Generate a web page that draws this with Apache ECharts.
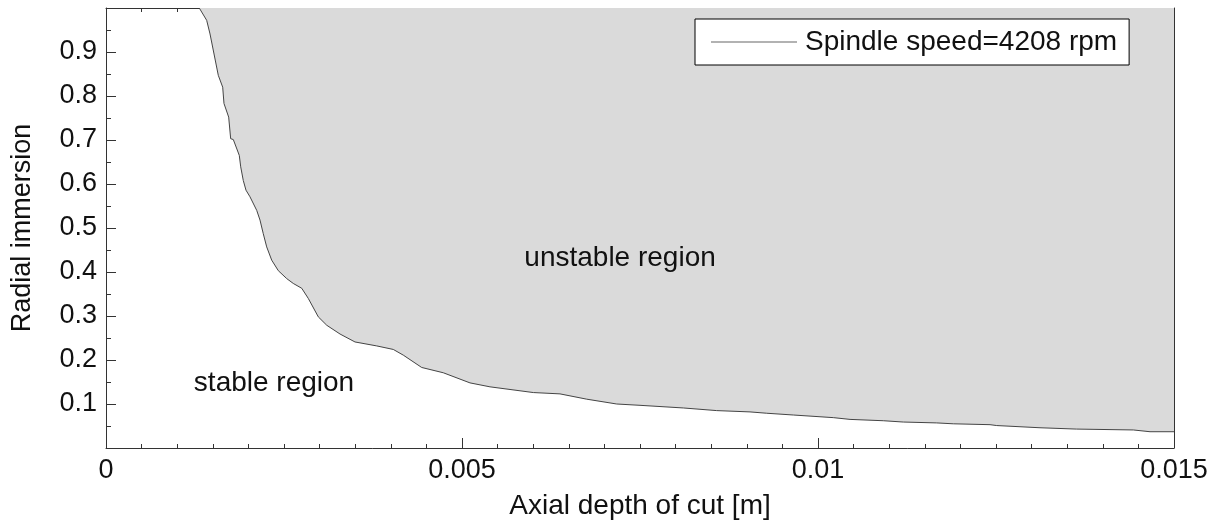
<!DOCTYPE html>
<html>
<head>
<meta charset="utf-8">
<script src="https://cdn.jsdelivr.net/npm/echarts@6/dist/echarts.min.js"></script>
<style>
  html, body { margin: 0; padding: 0; background: #fff; }
  #chart { width: 1223px; height: 527px; }
</style>
</head>
<body>
<div id="chart"></div>
<script>
// Stability lobe boundary: axial depth of cut [m] vs radial immersion
const depth = [
  0.001310, 0.001414, 0.001461, 0.001577, 0.001639, 0.001657, 0.001723, 0.001751,
  0.001788, 0.001872, 0.001892, 0.001928, 0.001966, 0.002022, 0.002117, 0.002163,
  0.002209, 0.002257, 0.002327, 0.002420, 0.002538, 0.002630, 0.002749, 0.002841,
  0.002982, 0.003100, 0.003287, 0.003497, 0.003802, 0.004035, 0.004176, 0.004434,
  0.004737, 0.005112, 0.005393, 0.006002, 0.006376, 0.006751, 0.007173, 0.007500,
  0.008108, 0.008577, 0.009045, 0.009280, 0.009653, 0.010215, 0.010450, 0.010917,
  0.011198, 0.011667, 0.011900, 0.012416, 0.012510, 0.013118, 0.013633, 0.014429,
  0.014663, 0.015000
];
const immersion = [
  1.000, 0.972, 0.941, 0.847, 0.820, 0.783, 0.752, 0.703,
  0.701, 0.665, 0.639, 0.608, 0.586, 0.571, 0.540, 0.518,
  0.487, 0.457, 0.427, 0.403, 0.385, 0.374, 0.363, 0.340,
  0.298, 0.279, 0.259, 0.241, 0.232, 0.224, 0.211, 0.183,
  0.171, 0.148, 0.139, 0.126, 0.123, 0.111, 0.100, 0.097,
  0.091, 0.085, 0.082, 0.079, 0.075, 0.069, 0.065, 0.062,
  0.059, 0.057, 0.055, 0.053, 0.051, 0.046, 0.043, 0.041,
  0.037, 0.037
];
const xTickLabels = ['0', '0.005', '0.01', '0.015'];
const seriesName = 'Spindle speed=4208 rpm';
const regionNames = ['unstable region', 'stable region'];
const regionDepth = [0.00722, 0.00236];
const regionImmersion = [0.431, 0.148];

const FONT = "'Liberation Sans', Arial, sans-serif";
const TEXT = '#111';
const AXIS = '#333';

const boundary = depth.map((d, i) => [d, immersion[i]]);

const chart = echarts.init(document.getElementById('chart'), null, { renderer: 'canvas' });

const baseAxis = {
  axisLine: { show: true, onZero: false, lineStyle: { color: AXIS, width: 1 } },
  axisTick: { show: true, inside: true, length: 10, lineStyle: { color: AXIS, width: 1 } },
  minorTick: { show: true, length: 4, lineStyle: { color: AXIS, width: 1 } },
  splitLine: { show: false },
  minorSplitLine: { show: false }
};

chart.setOption({
  animation: false,
  backgroundColor: '#fff',
  textStyle: { fontFamily: FONT },
  grid: { left: 106, right: 49, top: 8, bottom: 79, containLabel: false },
  legend: {
    data: [seriesName],
    left: 695,
    top: 19,
    padding: [9, 12, 9, 16],
    backgroundColor: '#fff',
    borderColor: '#000',
    borderWidth: 1,
    borderRadius: 0,
    itemWidth: 86,
    itemHeight: 14,
    itemGap: 0,
    icon: 'path://M0,0 L100,0 L100,1 L0,1 Z',
    selectedMode: false,
    itemStyle: { color: '#666' },
    textStyle: { fontFamily: FONT, fontSize: 28, color: TEXT, padding: [0, 0, 0, 3] }
  },
  xAxis: [
    Object.assign({}, baseAxis, {
      type: 'value', position: 'bottom', min: 0, max: 0.015, interval: 0.005,
      minorTick: Object.assign({}, baseAxis.minorTick, { splitNumber: 10 }),
      axisLabel: {
        show: true, margin: 9, fontFamily: FONT, fontSize: 27, color: TEXT,
        formatter: (v) => xTickLabels[Math.round(v / 0.005)]
      },
      name: 'Axial depth of cut [m]',
      nameLocation: 'middle',
      nameGap: 44,
      nameTextStyle: { fontFamily: FONT, fontSize: 28, color: TEXT }
    }),
    Object.assign({}, baseAxis, {
      type: 'value', position: 'top', min: 0, max: 0.015, interval: 0.005,
      minorTick: Object.assign({}, baseAxis.minorTick, { splitNumber: 10 }),
      axisLabel: { show: false }
    })
  ],
  yAxis: [
    Object.assign({}, baseAxis, {
      type: 'value', position: 'left', min: 0, max: 1, interval: 0.1,
      minorTick: Object.assign({}, baseAxis.minorTick, { splitNumber: 2, length: 5 }),
      axisLabel: {
        show: true, margin: 9, fontFamily: FONT, fontSize: 27, color: TEXT,
        showMinLabel: false, showMaxLabel: false,
        formatter: (v) => v.toFixed(1)
      },
      name: 'Radial immersion',
      nameLocation: 'middle',
      nameGap: 70,
      nameTextStyle: { fontFamily: FONT, fontSize: 27, color: TEXT }
    }),
    Object.assign({}, baseAxis, {
      type: 'value', position: 'right', min: 0, max: 1, interval: 0.1,
      minorTick: Object.assign({}, baseAxis.minorTick, { splitNumber: 2, length: 5 }),
      axisLabel: { show: false }
    })
  ],
  series: [
    {
      name: seriesName,
      type: 'line',
      xAxisIndex: 0,
      yAxisIndex: 0,
      data: boundary,
      symbol: 'none',
      smooth: false,
      lineStyle: { color: '#444', width: 1 },
      itemStyle: { color: '#444' },
      areaStyle: { origin: 'end', color: '#dadada', opacity: 1 },
      z: 2
    },
    {
      name: 'regions',
      type: 'scatter',
      xAxisIndex: 0,
      yAxisIndex: 0,
      silent: true,
      symbolSize: 0,
      itemStyle: { opacity: 1, color: 'transparent' },
      data: regionNames.map((n, i) => ({ name: n, value: [regionDepth[i], regionImmersion[i]] })),
      label: {
        show: true,
        position: 'inside',
        formatter: (p) => p.name,
        fontFamily: FONT,
        fontSize: 28,
        color: TEXT,
        opacity: 1,
        textBorderWidth: 0
      },
      z: 5
    }
  ]
});
</script>
</body>
</html>
